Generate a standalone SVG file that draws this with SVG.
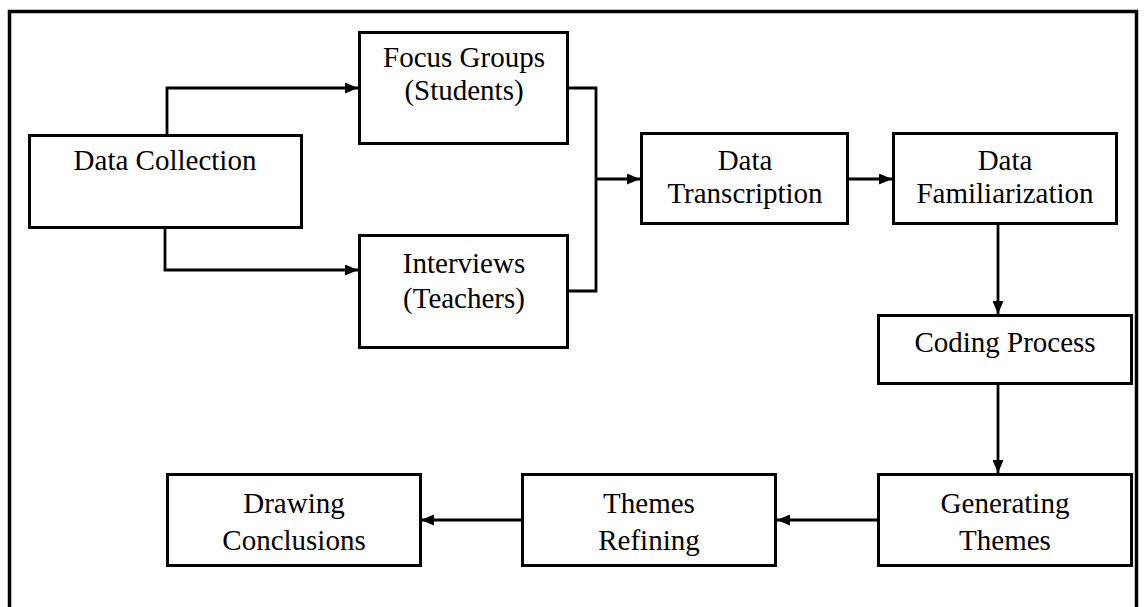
<svg xmlns="http://www.w3.org/2000/svg" width="1145" height="607" viewBox="0 0 1145 607">
<style>
.box{fill:#fff;stroke:#000;stroke-width:3}
.t{font-family:"Liberation Serif","Times New Roman",serif;font-size:29px;fill:#000;text-anchor:middle}
.c{fill:none;stroke:#000;stroke-width:2.8}
</style>
<defs>
<marker id="ah" markerWidth="13" markerHeight="11" refX="13" refY="5.5" orient="auto" markerUnits="userSpaceOnUse">
<path d="M0,0 L13,5.5 L0,11 Z" fill="#000"/>
</marker>
</defs>
<rect width="1145" height="607" fill="#fff"/>
<rect x="9.5" y="11.5" width="1127" height="620" fill="none" stroke="#000" stroke-width="3.5"/>
<g id="connectors">
<path class="c" d="M167,135 V88 H358" marker-end="url(#ah)"/>
<path class="c" d="M165,227 V270 H358" marker-end="url(#ah)"/>
<path class="c" d="M568,88 H596 V291 H568"/>
<path class="c" d="M596,179 H640" marker-end="url(#ah)"/>
<path class="c" d="M848,179 H892" marker-end="url(#ah)"/>
<path class="c" d="M998,223 V314" marker-end="url(#ah)"/>
<path class="c" d="M998,383 V473" marker-end="url(#ah)"/>
<path class="c" d="M878,520 H777" marker-end="url(#ah)"/>
<path class="c" d="M522,520 H421" marker-end="url(#ah)"/>
</g>
<g id="n-collection"><rect class="box" x="29.5" y="135.5" width="272" height="92"/><text class="t" x="165" y="170">Data Collection</text></g>
<g id="n-focus"><rect class="box" x="359.5" y="32.5" width="208" height="111"/><text class="t" x="464" y="67">Focus Groups</text><text class="t" x="464" y="100">(Students)</text></g>
<g id="n-interviews"><rect class="box" x="359.5" y="235.5" width="208" height="112"/><text class="t" x="464" y="273">Interviews</text><text class="t" x="464" y="308">(Teachers)</text></g>
<g id="n-transcription"><rect class="box" x="641.5" y="133.5" width="206" height="90"/><text class="t" x="745" y="170">Data</text><text class="t" x="745" y="203">Transcription</text></g>
<g id="n-familiarization"><rect class="box" x="893.5" y="133.5" width="223" height="90"/><text class="t" x="1005" y="170">Data</text><text class="t" x="1005" y="203">Familiarization</text></g>
<g id="n-coding"><rect class="box" x="878.5" y="315.5" width="253" height="68"/><text class="t" x="1005" y="352">Coding Process</text></g>
<g id="n-generating"><rect class="box" x="878.5" y="474.5" width="253" height="91"/><text class="t" x="1005" y="513">Generating</text><text class="t" x="1005" y="550">Themes</text></g>
<g id="n-refining"><rect class="box" x="522.5" y="474.5" width="253" height="91"/><text class="t" x="649" y="513">Themes</text><text class="t" x="649" y="550">Refining</text></g>
<g id="n-conclusions"><rect class="box" x="167.5" y="474.5" width="253" height="91"/><text class="t" x="294" y="513">Drawing</text><text class="t" x="294" y="550">Conclusions</text></g>
</svg>
